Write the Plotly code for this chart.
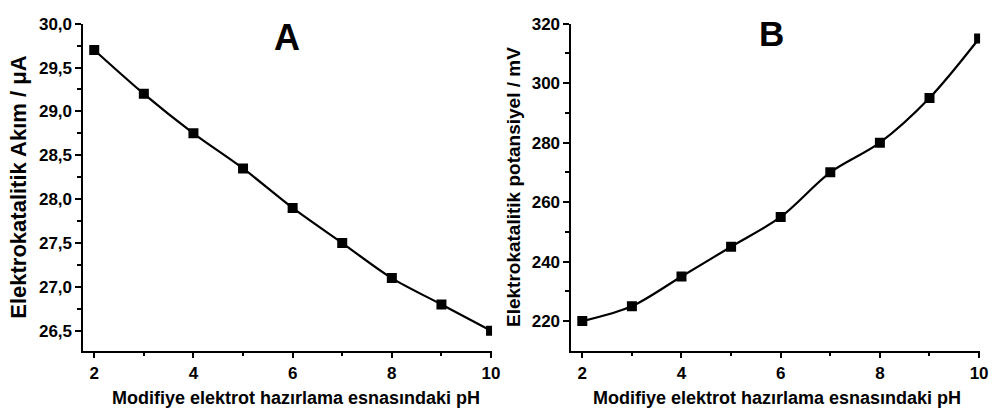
import plotly.graph_objects as go
from plotly.subplots import make_subplots

# pH values used during modified electrode preparation
ph = [2, 3, 4, 5, 6, 7, 8, 9, 10]
# Panel A: electrocatalytic current (µA)
current_uA = [29.7, 29.2, 28.75, 28.35, 27.9, 27.5, 27.1, 26.8, 26.5]
# Panel B: electrocatalytic potential (mV)
potential_mV = [220, 225, 235, 245, 255, 270, 280, 295, 315]

x_ticks = [2, 4, 6, 8, 10]
a_ticks = [26.5, 27.0, 27.5, 28.0, 28.5, 29.0, 29.5, 30.0]
b_ticks = [220, 240, 260, 280, 300, 320]

FONT = "Liberation Sans, Arial, sans-serif"
x_title = "<b>Modifiye elektrot hazırlama esnasındaki pH</b>"

fig = make_subplots(rows=1, cols=2)

for col, yvals in ((1, current_uA), (2, potential_mV)):
    fig.add_trace(go.Scatter(
        x=ph, y=yvals, mode="lines+markers",
        line=dict(color="black", width=2.2, shape="spline", smoothing=0.9),
        marker=dict(symbol="square", size=10, color="black"),
        showlegend=False,
    ), row=1, col=col)

axis_common = dict(
    showline=True, linecolor="black", linewidth=1.8,
    ticks="outside", ticklen=6, tickwidth=1.8, tickcolor="black",
    showgrid=False, zeroline=False,
    tickfont=dict(family=FONT, size=17, color="black", weight="bold"),
)
minor_common = dict(ticks="outside", ticklen=4, tickwidth=1.5, tickcolor="black", showgrid=False)

fig.update_layout(
    width=999, height=419,
    margin=dict(l=0, r=0, t=0, b=0),
    paper_bgcolor="white", plot_bgcolor="white",
    separators=",.",
    xaxis=dict(domain=[84/999, 496/999], range=[1.78, 10.02],
               tickvals=x_ticks, tickformat="d",
               minor=dict(dtick=1, **minor_common),
               **axis_common),
    yaxis=dict(domain=[70/419, 404/419], range=[26.275, 30.0],
               tickvals=a_ticks, tickformat=".1f",
               minor=dict(dtick=0.25, **minor_common),
               title=dict(text="<b>Elektrokatalitik Akım / μA</b>", standoff=6,
                          font=dict(family=FONT, size=22, color="black")),
               **axis_common),
    xaxis2=dict(domain=[576/999, 988/999], range=[1.78, 10.02],
                tickvals=x_ticks, tickformat="d",
                minor=dict(dtick=1, **minor_common),
                **axis_common),
    yaxis2=dict(domain=[70/419, 404/419], range=[210.1, 320],
                tickvals=b_ticks, tickformat="d",
                minor=dict(dtick=10, **minor_common),
                title=dict(text="<b>Elektrokatalitik potansiyel / mV</b>", standoff=6,
                           font=dict(family=FONT, size=19, color="black")),
                **axis_common),
    annotations=[
        dict(text=x_title, x=298/999, y=1 - 398/419, xref="paper", yref="paper",
             xanchor="center", yanchor="middle", showarrow=False,
             font=dict(family=FONT, size=18, color="black")),
        dict(text=x_title, x=783/999, y=1 - 398/419, xref="paper", yref="paper",
             xanchor="center", yanchor="middle", showarrow=False,
             font=dict(family=FONT, size=18, color="black")),
        dict(text="<b>A</b>", x=289/999, y=1 - 29/419, xref="paper", yref="paper",
             xanchor="center", yanchor="middle", showarrow=False,
             font=dict(family=FONT, size=36, color="black")),
        dict(text="<b>B</b>", x=778/999, y=1 - 25/419, xref="paper", yref="paper",
             xanchor="center", yanchor="middle", showarrow=False,
             font=dict(family=FONT, size=35, color="black")),
    ],
)

fig.write_html("out.html")
